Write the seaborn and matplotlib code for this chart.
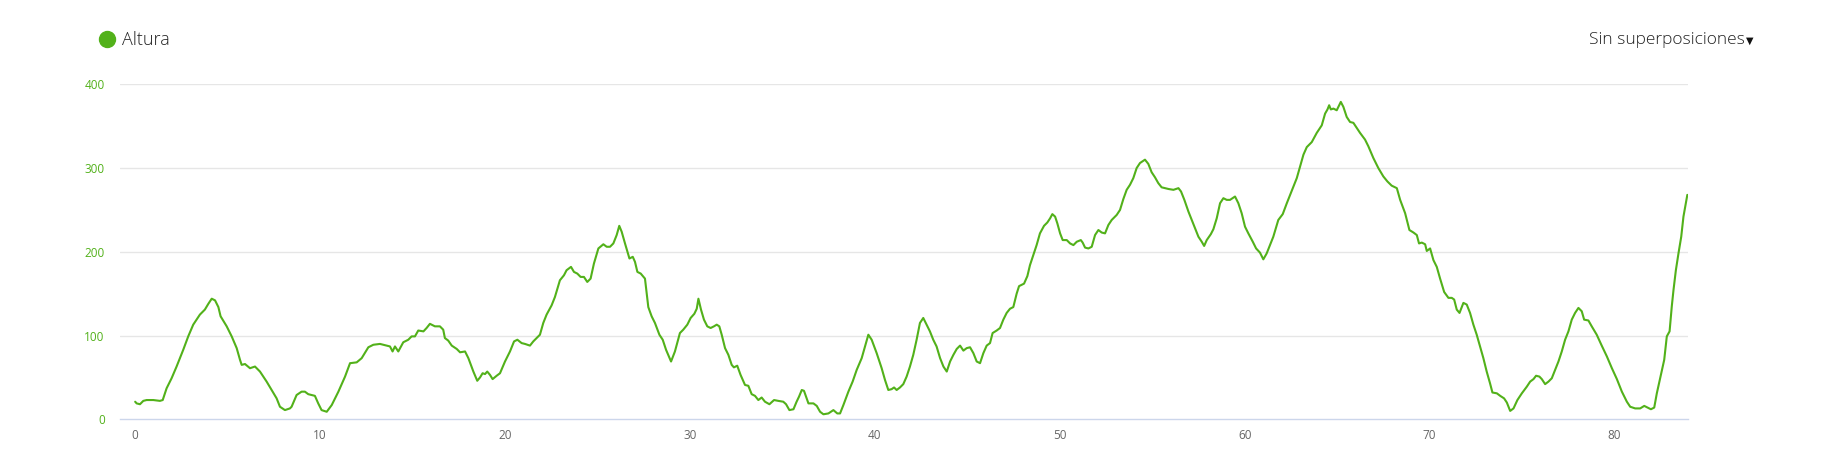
import numpy as np
import pandas as pd
import seaborn as sns
import matplotlib
matplotlib.use("Agg")
import matplotlib.pyplot as plt
from matplotlib.lines import Line2D

# ---- data ----
km = [0.00, 0.08, 0.26, 0.44, 0.62, 0.98, 1.34, 1.49, 1.70, 1.97, 2.24, 2.60, 2.87, 3.14, 3.50, 3.77, 3.96, 4.14, 4.32, 4.50,
      4.62, 4.95, 5.22, 5.49, 5.67, 5.76, 5.94, 6.21, 6.48, 6.75, 7.11, 7.38, 7.65, 7.83, 8.10, 8.37, 8.46, 8.73, 9.00, 9.18,
      9.36, 9.72, 9.90, 10.08, 10.36, 10.63, 10.99, 11.35, 11.62, 11.98, 12.25, 12.61, 12.88, 13.24, 13.60, 13.78, 13.92, 14.05,
      14.23, 14.50, 14.77, 14.95, 15.13, 15.31, 15.59, 15.76, 15.94, 16.21, 16.48, 16.66, 16.75, 16.93, 17.12, 17.39, 17.57,
      17.84, 18.02, 18.29, 18.50, 18.65, 18.79, 18.92, 19.04, 19.19, 19.33, 19.55,
      19.73, 20.00, 20.27, 20.49, 20.67, 20.90, 21.08, 21.35, 21.53, 21.71, 21.89, 22.07, 22.25, 22.52, 22.70, 22.97, 23.19,
      23.33, 23.57, 23.73, 23.91, 24.09, 24.27, 24.45, 24.63, 24.81, 25.05, 25.32, 25.50, 25.68, 25.86, 26.04, 26.18, 26.31,
      26.49, 26.73, 26.91, 27.03, 27.16, 27.34, 27.57, 27.75, 27.93, 28.11, 28.35, 28.53, 28.71, 28.98, 29.19, 29.46, 29.64,
      29.86, 30.04, 30.24, 30.37, 30.46, 30.60, 30.76, 30.94, 31.12, 31.30, 31.45, 31.59, 31.72, 31.90, 32.08, 32.26, 32.38,
      32.56, 32.74, 32.98, 33.16, 33.34, 33.52, 33.70, 33.88, 34.06, 34.30, 34.55, 34.78, 35.05, 35.20, 35.38, 35.60, 35.77,
      35.90, 36.05, 36.17, 36.28, 36.41, 36.68, 36.86, 37.04, 37.22, 37.49, 37.76, 37.97, 38.12, 38.30, 38.57, 38.80, 39.02,
      39.29, 39.47, 39.65, 39.83, 40.10, 40.37, 40.55, 40.73, 40.91, 41.04, 41.18, 41.36,
      41.54, 41.72, 41.90, 42.08, 42.26, 42.44, 42.62, 42.80, 42.98, 43.16, 43.34, 43.53, 43.71, 43.89, 44.07, 44.25, 44.43,
      44.61, 44.79, 44.97, 45.15, 45.33, 45.51, 45.69, 45.87, 46.05, 46.23, 46.37, 46.59, 46.77, 46.95, 47.13, 47.31, 47.49,
      47.67, 47.80, 48.07, 48.25, 48.39, 48.57, 48.75, 48.93, 49.15, 49.33, 49.48, 49.60, 49.75, 49.87, 50.02, 50.16, 50.38,
      50.56, 50.74, 50.92, 51.14, 51.24, 51.37, 51.55, 51.73, 51.91, 52.09, 52.27, 52.45, 52.63, 52.81, 53.08, 53.26, 53.44,
      53.62, 53.80, 53.98, 54.16, 54.34, 54.61, 54.79, 54.97, 55.15, 55.33, 55.51, 55.70, 55.88, 56.15, 56.42, 56.56, 56.74,
      56.96, 57.14, 57.32, 57.50, 57.68, 57.81, 57.95, 58.17, 58.31, 58.49, 58.67, 58.85, 59.03, 59.21, 59.48, 59.66, 59.84,
      60.02, 60.20, 60.44, 60.62, 60.83, 61.01, 61.19, 61.37, 61.55, 61.82, 62.06, 62.28, 62.55, 62.82, 63.00, 63.18, 63.36,
      63.63, 63.90, 64.17, 64.35, 64.48, 64.57, 64.66, 64.80, 64.98, 65.20, 65.34, 65.52, 65.70,
      65.88, 66.06, 66.24, 66.51, 66.69, 66.96, 67.23, 67.50, 67.72, 67.95, 68.23, 68.41, 68.68, 68.91, 69.13, 69.31, 69.43,
      69.58, 69.76, 69.85, 70.03, 70.21, 70.39, 70.57, 70.79, 71.02, 71.20, 71.33, 71.47, 71.62, 71.83, 72.01, 72.19, 72.37,
      72.55, 72.73, 72.91, 73.09, 73.27, 73.40, 73.64, 73.82, 74.03, 74.18, 74.36, 74.54, 74.75, 74.99, 75.26, 75.44, 75.62,
      75.76, 75.94, 76.07, 76.25, 76.43, 76.61, 76.79, 76.97, 77.15, 77.33, 77.51, 77.69, 77.87, 78.05, 78.23, 78.36, 78.59,
      78.77, 79.04, 79.31, 79.59, 79.86, 80.13, 80.40, 80.67, 80.85, 81.12, 81.39, 81.61, 81.79, 81.97, 82.15, 82.29, 82.51,
      82.69, 82.83, 82.98, 83.10, 83.19, 83.32, 83.46, 83.61, 83.73, 83.94]

altura = [21, 19, 18, 22, 23, 23, 22, 23, 37, 49, 63, 83, 99, 113, 125, 131, 138, 144, 142, 134,
          123, 111, 99, 85, 71, 65, 66, 61, 63, 57, 45, 35, 25, 15, 11, 13, 15, 29, 33, 33,
          30, 28, 19, 11, 9, 17, 33, 51, 67, 68, 73, 86, 89, 90, 88, 87, 81, 87,
          81, 92, 95, 99, 99, 106, 105, 109, 114, 111, 111, 107, 97, 94, 88, 84, 80,
          81, 73, 57, 46, 50, 55, 54, 57, 53, 48, 52,
          55, 69, 81, 93, 95, 91, 90, 88, 93, 97, 101, 115, 125, 136, 146, 166, 172,
          178, 182, 176, 174, 170, 170, 164, 168, 186, 204, 209, 206, 206, 210, 220, 231, 224,
          210, 192, 194, 188, 176, 174, 168, 134, 123, 115, 101, 95, 83, 69, 81, 103, 107,
          113, 121, 126, 132, 144, 131, 119, 111, 109, 111, 113, 111, 101, 85, 77, 65, 62,
          64, 53, 41, 40, 30, 28, 23, 26, 21, 18, 23, 22, 21, 18, 11, 12, 21,
          27, 35, 34, 27, 19, 19, 16, 9, 6, 7, 11, 7, 7, 17, 33, 45, 59,
          73, 87, 101, 95, 79, 61, 47, 35, 36, 38, 35, 38,
          42, 51, 63, 77, 95, 115, 121, 113, 105, 95, 87, 73, 63, 57, 69, 77, 84,
          88, 82, 85, 86, 79, 69, 67, 79, 88, 91, 103, 106, 109, 119, 127, 132, 134,
          150, 159, 162, 171, 184, 196, 208, 222, 231, 235, 240, 245, 242, 234, 222, 214, 214,
          210, 208, 212, 214, 211, 205, 204, 206, 220, 226, 223, 222, 232, 238, 244, 250, 263,
          274, 280, 288, 300, 306, 310, 305, 295, 289, 282, 277, 276, 275, 274, 276, 272, 262,
          248, 238, 228, 218, 212, 207, 214, 221, 227, 240, 258, 264, 262, 262, 266, 258, 246,
          230, 222, 212, 204, 199, 191, 198, 208, 218, 238, 245, 258, 273, 288, 302, 316, 325,
          331, 342, 351, 365, 370, 375, 370, 371, 369, 379, 373, 361, 355,
          354, 348, 342, 334, 326, 312, 300, 290, 284, 279, 276, 262, 246, 226, 223, 220, 210,
          211, 209, 201, 204, 190, 182, 168, 152, 145, 145, 143, 131, 127, 139, 137, 127, 113,
          101, 87, 73, 57, 43, 32, 31, 28, 25, 20, 10, 13, 23, 31, 39, 45, 48,
          52, 51, 48, 42, 45, 49, 59, 69, 81, 95, 105, 119, 127, 133, 129, 119, 118,
          111, 101, 88, 75, 61, 48, 33, 21, 15, 13, 13, 16, 14, 12, 14, 31, 53,
          71, 99, 105, 135, 154, 178, 198, 218, 242, 268]

x_ticks = [0, 10, 20, 30, 40, 50, 60, 70, 80]
y_ticks = [0, 100, 200, 300, 400]
series_name = "Altura"
menu_label = "Sin superposiciones"

# ---- style ----
GREEN = "#52b11a"
sns.set_style("white")
plt.rcParams["font.family"] = ["Open Sans", "DejaVu Sans"]

W, H = 1843, 474
fig = plt.figure(figsize=(W / 100, H / 100), dpi=100)
left, right = 120 / W, 1687.7 / W
top, bottom = 84.3 / H, 419.3 / H
ax = fig.add_axes([left, 1 - bottom, right - left, bottom - top])

df = pd.DataFrame({"km": km, "altura": altura})
sns.lineplot(data=df, x="km", y="altura", ax=ax, color=GREEN, linewidth=1.5, legend=False)

ax.set_xlim(-0.82, 83.96)
ax.set_ylim(0, 400)
ax.set_xticks(x_ticks)
ax.set_yticks(y_ticks)
ax.set_xlabel("")
ax.set_ylabel("")

for s in ["top", "right", "left"]:
    ax.spines[s].set_visible(False)
ax.spines["bottom"].set_color("#ccd6eb")
ax.spines["bottom"].set_linewidth(1.0)

for yv in y_ticks[1:]:
    ax.axhline(yv, color="#e6e6e6", linewidth=1.0, zorder=0)

ax.tick_params(axis="x", length=0, pad=7, labelsize=8.5, labelcolor="#666666")
ax.tick_params(axis="y", length=0, pad=11, labelsize=8.5, labelcolor=GREEN)

# legend
handle = Line2D([], [], marker="o", linestyle="", color=GREEN, markersize=11.5)
leg = fig.legend([handle], [series_name], loc="center left",
                 bbox_to_anchor=(99 / W, 1 - 40 / H), frameon=False,
                 borderpad=0, borderaxespad=0, handlelength=0.9, handletextpad=0.35,
                 prop={"size": 13, "weight": "light"}, labelcolor="#222222")

# menu text top-right
fig.text(1745 / W, 1 - 39.5 / H, menu_label, ha="right", va="center",
         fontsize=12.5, color="#222222", fontweight="light")
fig.text(1746 / W, 1 - 40.5 / H, "\u25BC", ha="left", va="center",
         fontsize=7, color="#111111", family=["DejaVu Sans"])

fig.savefig("out.png", dpi=100)
